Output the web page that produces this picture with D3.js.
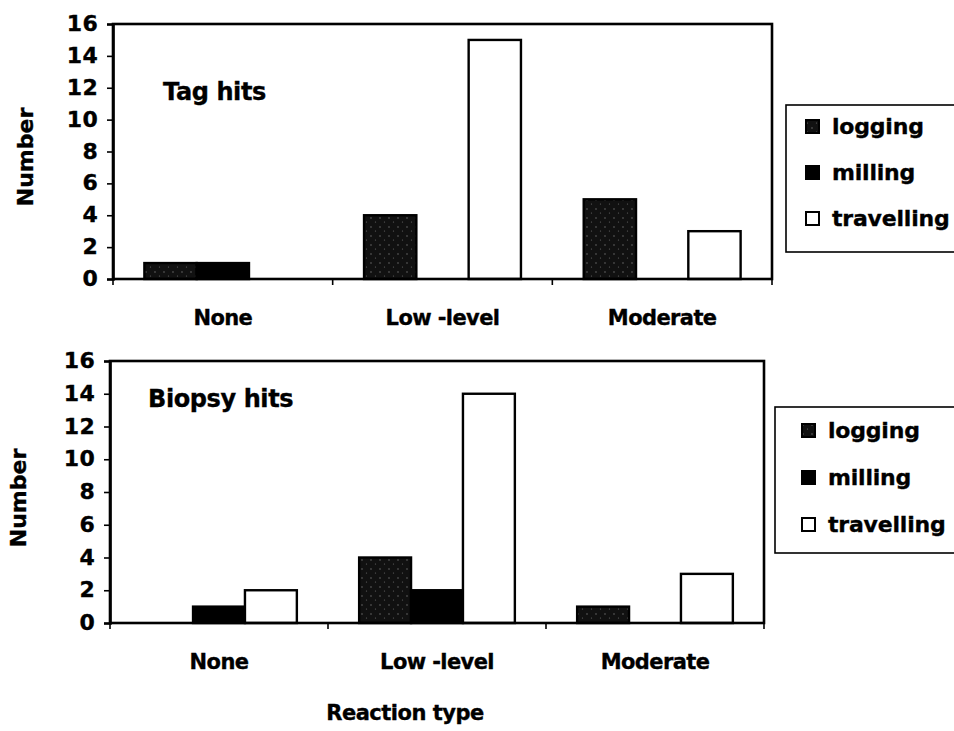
<!DOCTYPE html>
<html>
<head>
<meta charset="utf-8">
<script src="https://cdn.jsdelivr.net/npm/d3@7"></script>
<style>
  html, body { margin: 0; padding: 0; background: #fff; }
  svg { display: block; }
  text { font-family: "DejaVu Sans", "Liberation Sans", Arial, sans-serif; font-weight: bold; fill: #000;
         stroke: #000; stroke-width: 0.35px; }
</style>
</head>
<body>
<svg id="chart" width="954" height="731"></svg>
<script>
// Reaction categories and behaviour series
const categories = ["None", "Low-level", "Moderate"];
const seriesNames = ["logging", "milling", "travelling"];
const yTicks = [0, 2, 4, 6, 8, 10, 12, 14, 16];

// Counts per category, one array per behaviour
const tagLogging    = [1, 4, 5];
const tagMilling    = [1, 0, 0];
const tagTravelling = [0, 15, 3];

const biopsyLogging    = [0, 4, 1];
const biopsyMilling    = [1, 2, 0];
const biopsyTravelling = [2, 14, 3];

const panels = [
  { title: "Tag hits",    values: [tagLogging, tagMilling, tagTravelling],
    left: 113, right: 772, top: 24, bottom: 279,
    titleX: 163, titleY: 100, catY: 325, numX: 33, numY: 157,
    legend: { x: 786, y: 105, h: 147, mx: 806, tx: 832, base: 134, step: 46 } },
  { title: "Biopsy hits", values: [biopsyLogging, biopsyMilling, biopsyTravelling],
    left: 110, right: 764, top: 361, bottom: 623,
    titleX: 148, titleY: 407, catY: 669, numX: 26, numY: 498,
    legend: { x: 775, y: 407, h: 146, mx: 802, tx: 828, base: 438, step: 47 } }
];

const svg = d3.select("#chart");

// Speckled dark fill used for the logging series
const defs = svg.append("defs");
const pat = defs.append("pattern")
  .attr("id", "speckle").attr("patternUnits", "userSpaceOnUse")
  .attr("width", 9).attr("height", 9);
pat.append("rect").attr("width", 9).attr("height", 9).attr("fill", "#111");
pat.append("circle").attr("cx", 2).attr("cy", 2).attr("r", 0.7).attr("fill", "#777");
pat.append("circle").attr("cx", 6.5).attr("cy", 6).attr("r", 0.6).attr("fill", "#666");

const fills = ["url(#speckle)", "#000", "#fff"];

panels.forEach(p => {
  const g = svg.append("g");

  const y = d3.scaleLinear().domain([0, 16]).range([p.bottom, p.top]);
  const x0 = d3.scaleBand().domain(categories).range([p.left, p.right]).paddingInner(0).paddingOuter(0);
  const x1 = d3.scaleBand().domain(seriesNames).range([0, x0.bandwidth()])
    .paddingInner(0).paddingOuter(0.6);

  // bars
  categories.forEach((c, ci) => {
    seriesNames.forEach((s, si) => {
      const v = p.values[si][ci];
      if (v <= 0) return;
      g.append("rect")
        .attr("x", x0(c) + x1(s))
        .attr("y", y(v))
        .attr("width", x1.bandwidth())
        .attr("height", y(0) - y(v))
        .attr("fill", fills[si])
        .attr("stroke", "#000")
        .attr("stroke-width", 2.4);
    });
  });

  // plot frame
  g.append("rect")
    .attr("x", p.left).attr("y", p.top)
    .attr("width", p.right - p.left).attr("height", p.bottom - p.top)
    .attr("fill", "none").attr("stroke", "#000").attr("stroke-width", 2.6);

  // y axis
  const yAxis = d3.axisLeft(y).tickValues(yTicks).tickSize(6).tickPadding(9);
  const ya = g.append("g").attr("transform", `translate(${p.left},0)`).call(yAxis);
  ya.select(".domain").attr("stroke-width", 2.6);
  ya.selectAll(".tick line").attr("stroke-width", 1.6);
  ya.selectAll(".tick text")
    .attr("dy", "0.3em")
    .style("font-family", '"DejaVu Sans", Arial, sans-serif')
    .style("font-weight", "bold").style("font-size", "22px")
    .style("letter-spacing", "0.3px").attr("fill", "#000")
    .attr("stroke", "#000").attr("stroke-width", 0.35);

  // x axis: ticks at category boundaries
  const bounds = categories.map(c => x0(c)).concat([p.right]);
  g.selectAll(".xtick").data(bounds).enter().append("line")
    .attr("x1", d => d).attr("x2", d => d)
    .attr("y1", p.bottom).attr("y2", p.bottom + 6)
    .attr("stroke", "#000").attr("stroke-width", 1.6);

  g.selectAll(".cat").data(categories).enter().append("text")
    .attr("x", d => x0(d) + x0.bandwidth() / 2)
    .attr("y", p.catY)
    .attr("text-anchor", "middle")
    .style("font-size", "21px")
    .style("letter-spacing", "-0.6px")
    .text(d => d === "Low-level" ? "Low -level" : d);

  // panel title
  g.append("text").attr("x", p.titleX).attr("y", p.titleY)
    .style("font-size", "24px").style("letter-spacing", "-0.4px").text(p.title);

  // y axis title
  g.append("text")
    .attr("transform", `translate(${p.numX},${p.numY}) rotate(-90)`)
    .attr("text-anchor", "middle")
    .style("font-size", "22px")
    .text("Number");

  // legend
  const L = p.legend;
  g.append("rect").attr("x", L.x).attr("y", L.y).attr("width", 200).attr("height", L.h)
    .attr("fill", "#fff").attr("stroke", "#000").attr("stroke-width", 1.6);
  seriesNames.forEach((s, i) => {
    const base = L.base + i * L.step;
    g.append("rect")
      .attr("x", L.mx).attr("y", base - 14)
      .attr("width", 13).attr("height", 13)
      .attr("fill", fills[i]).attr("stroke", "#000").attr("stroke-width", 2);
    g.append("text")
      .attr("x", L.tx).attr("y", base)
      .style("font-size", "22px").style("letter-spacing", "-0.2px")
      .text(s);
  });
});

// shared x axis title
svg.append("text").attr("x", 405).attr("y", 720).attr("text-anchor", "middle")
  .style("font-size", "21px").style("letter-spacing", "-0.5px").text("Reaction type");
</script>
</body>
</html>
